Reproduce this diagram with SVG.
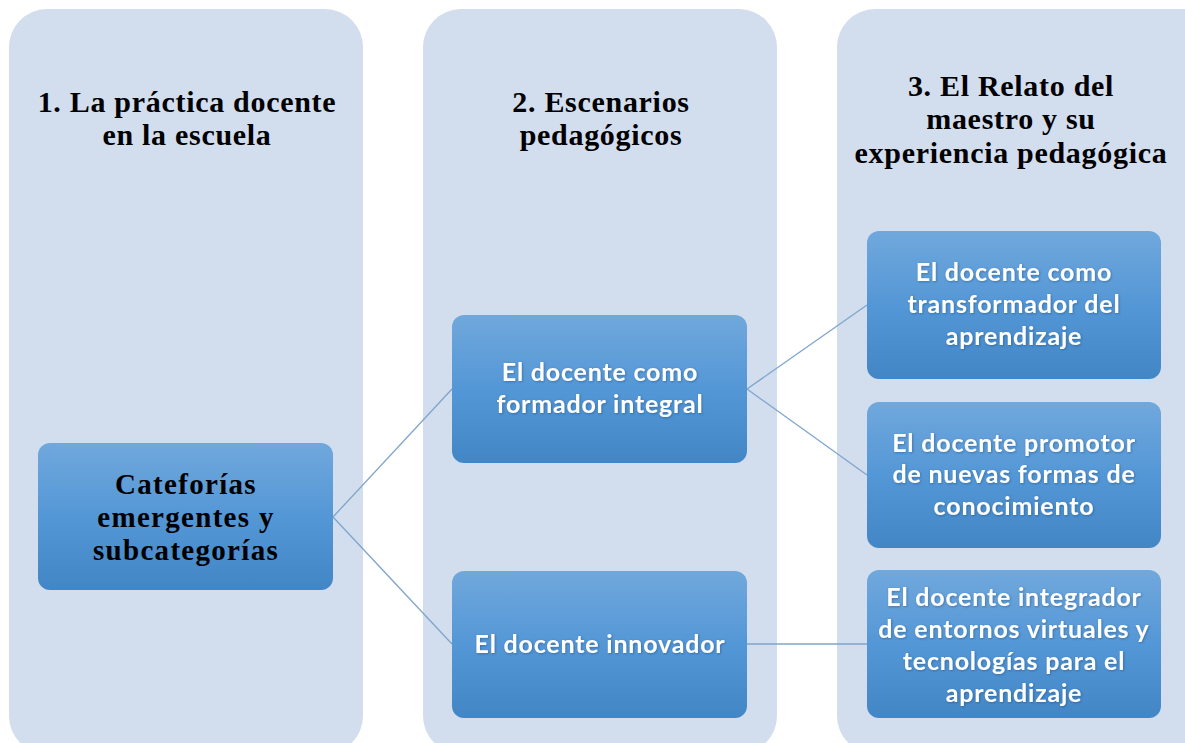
<svg xmlns="http://www.w3.org/2000/svg" width="1185" height="743" viewBox="0 0 1185 743">
<defs>
<linearGradient id="nodeGrad" x1="0" y1="0" x2="0" y2="1">
<stop offset="0" stop-color="#70a8dc"/>
<stop offset="0.5" stop-color="#5497d6"/>
<stop offset="1" stop-color="#4286c6"/>
</linearGradient>
<filter id="txtShadow" x="-10%" y="-30%" width="120%" height="160%">
<feDropShadow dx="0.8" dy="0.8" stdDeviation="0.8" flood-color="#1a3a66" flood-opacity="0.45"/>
</filter>
</defs>
<style>
.col { fill: #d2ddee; }
.node { fill: url(#nodeGrad); }
.title { font-family: "Liberation Serif", "Times New Roman", serif; font-weight: bold; font-size: 30px; fill: #000; text-anchor: middle; letter-spacing: 0.7px; }
.ntxt { font-family: Lato, "Open Sans", "Liberation Sans", sans-serif; font-weight: bold; font-size: 25px; fill: #fff; text-anchor: middle; letter-spacing: 0.8px; filter: url(#txtShadow); }
.atxt { font-family: "Liberation Serif", "Times New Roman", serif; font-weight: bold; font-size: 29px; fill: #000; text-anchor: middle; letter-spacing: 1.3px; }
.conn { stroke: #7fa5cb; stroke-width: 1.3; fill: none; }
</style>
<rect width="1185" height="743" fill="#ffffff"/>
<g id="column1">
<rect class="col" x="9" y="9" width="354" height="745" rx="38" ry="38"/>
<text class="title" x="187" y="112">1. La práctica docente</text>
<text class="title" x="187" y="145">en la escuela</text>
</g>
<g id="column2">
<rect class="col" x="423" y="9" width="354" height="745" rx="38" ry="38"/>
<text class="title" x="601" y="112">2. Escenarios</text>
<text class="title" x="601" y="145">pedagógicos</text>
</g>
<g id="column3">
<rect class="col" x="837" y="9" width="390" height="745" rx="38" ry="38"/>
<text class="title" x="1011" y="96">3. El Relato del</text>
<text class="title" x="1011" y="129">maestro y su</text>
<text class="title" x="1011" y="163">experiencia pedagógica</text>
</g>
<g id="connectors">
<line class="conn" x1="333" y1="517" x2="452" y2="389"/>
<line class="conn" x1="333" y1="517" x2="452" y2="644"/>
<line class="conn" x1="747" y1="389" x2="867" y2="305"/>
<line class="conn" x1="747" y1="389" x2="867" y2="475"/>
<line class="conn" x1="747" y1="644" x2="867" y2="644"/>
</g>
<g id="nodeA">
<rect class="node" x="38" y="443" width="295" height="147" rx="12" ry="12"/>
<text class="atxt" x="186" y="494">Cateforías</text>
<text class="atxt" x="186" y="527">emergentes y</text>
<text class="atxt" x="186" y="560">subcategorías</text>
</g>
<g id="nodeB">
<rect class="node" x="452" y="315" width="295" height="148" rx="12" ry="12"/>
<text class="ntxt" x="600" y="381">El docente como</text>
<text class="ntxt" x="600" y="413">formador integral</text>
</g>
<g id="nodeC">
<rect class="node" x="452" y="571" width="295" height="147" rx="12" ry="12"/>
<text class="ntxt" x="600" y="653">El docente innovador</text>
</g>
<g id="nodeD">
<rect class="node" x="867" y="231" width="294" height="148" rx="12" ry="12"/>
<text class="ntxt" x="1014" y="281">El docente como</text>
<text class="ntxt" x="1014" y="313">transformador del</text>
<text class="ntxt" x="1014" y="345">aprendizaje</text>
</g>
<g id="nodeE">
<rect class="node" x="867" y="402" width="294" height="146" rx="12" ry="12"/>
<text class="ntxt" x="1014" y="452">El docente promotor</text>
<text class="ntxt" x="1014" y="483">de nuevas formas de</text>
<text class="ntxt" x="1014" y="515">conocimiento</text>
</g>
<g id="nodeF">
<rect class="node" x="867" y="570" width="294" height="148" rx="12" ry="12"/>
<text class="ntxt" x="1014" y="606">El docente integrador</text>
<text class="ntxt" x="1014" y="638">de entornos virtuales y</text>
<text class="ntxt" x="1014" y="670">tecnologías para el</text>
<text class="ntxt" x="1014" y="702">aprendizaje</text>
</g>
</svg>
